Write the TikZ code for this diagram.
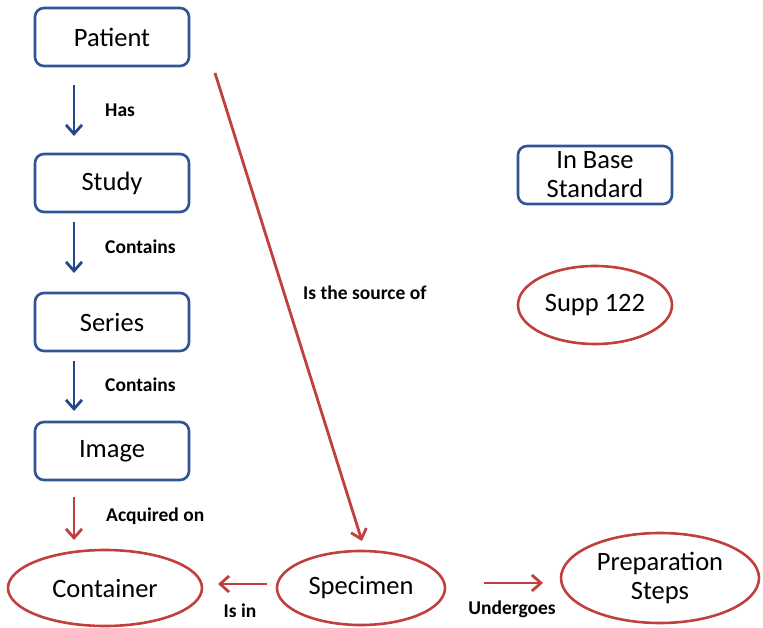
\documentclass[tikz,border=0pt]{standalone}
\usepackage{fontspec}
\setmainfont{Carlito}
\usetikzlibrary{arrows.meta,shapes.geometric}
\definecolor{bbox}{RGB}{47,85,151}
\definecolor{barrow}{RGB}{36,72,140}
\definecolor{rline}{RGB}{192,64,62}
\tikzset{
  bluebox/.style={draw=bbox,line width=2.6pt,rounded corners=9pt,minimum width=154pt,minimum height=58pt,align=center,font=\fontsize{26.5}{29}\selectfont},
  redell/.style={draw=rline,line width=2.6pt,ellipse,inner sep=0pt,align=center,font=\fontsize{26.5}{29}\selectfont},
  barr/.style={draw=barrow,line width=2.8pt,-{Straight Barb[length=9pt,width=16pt,line width=2.8pt]}},
  rarr/.style={draw=rline,line width=2.8pt,-{Straight Barb[length=9pt,width=16pt,line width=2.8pt]}},
  lbl/.style={font=\bfseries\fontsize{19.5}{21}\selectfont,inner sep=0pt}
}
\begin{document}
\begin{tikzpicture}[x=1pt,y=-1pt]
\useasboundingbox (0,0) rectangle (763,628);
\node[bluebox] (patient) at (112,37) {Patient};
\node[bluebox] (study) at (112,183) {Study};
\node[bluebox] (series) at (112,322) {Series};
\node[bluebox] (image) at (112,451) {Image};
\node[bluebox] (base) at (595,175) {In Base\\Standard};
\node[redell,minimum width=154pt,minimum height=78pt] (supp) at (595,305) {Supp 122};
\node[redell,minimum width=194pt,minimum height=76pt] (container) at (105,588) {Container};
\node[redell,minimum width=168pt,minimum height=74pt] (specimen) at (361,588) {Specimen};
\node[redell,minimum width=198pt,minimum height=90pt] (prep) at (660,578) {Preparation\\Steps};
% blue arrows
\coordinate (a1) at (74,85); \coordinate (a2) at (74,136);
\coordinate (b1) at (74,222); \coordinate (b2) at (74,273);
\coordinate (c1) at (74,361); \coordinate (c2) at (74,411);
\coordinate (d1) at (74,497); \coordinate (d2) at (74,540);
\draw[barr] (a1) -- (a2);
\draw[barr] (b1) -- (b2);
\draw[barr] (c1) -- (c2);
\draw[rarr] (d1) -- (d2);
\node[lbl,anchor=west] (has) at (105,110) {Has};
\node[lbl,anchor=west] (cont1) at (105,247) {Contains};
\node[lbl,anchor=west] (cont2) at (105,385) {Contains};
\node[lbl,anchor=west] (acq) at (106,516) {Acquired on};
% source of
\coordinate (s1) at (215,73); \coordinate (s2) at (362,541);
\draw[rarr] (s1) -- (s2);
\node[lbl,anchor=west] (src) at (303,293) {Is the source of};
% Is in
\coordinate (i1) at (267,584); \coordinate (i2) at (218,584);
\draw[rarr] (i1) -- (i2);
\node[lbl] (isin) at (240,611) {Is in};
% Undergoes
\coordinate (u1) at (484,583); \coordinate (u2) at (543,583);
\draw[rarr] (u1) -- (u2);
\node[lbl] (und) at (512,609) {Undergoes};
\end{tikzpicture}
\end{document}
